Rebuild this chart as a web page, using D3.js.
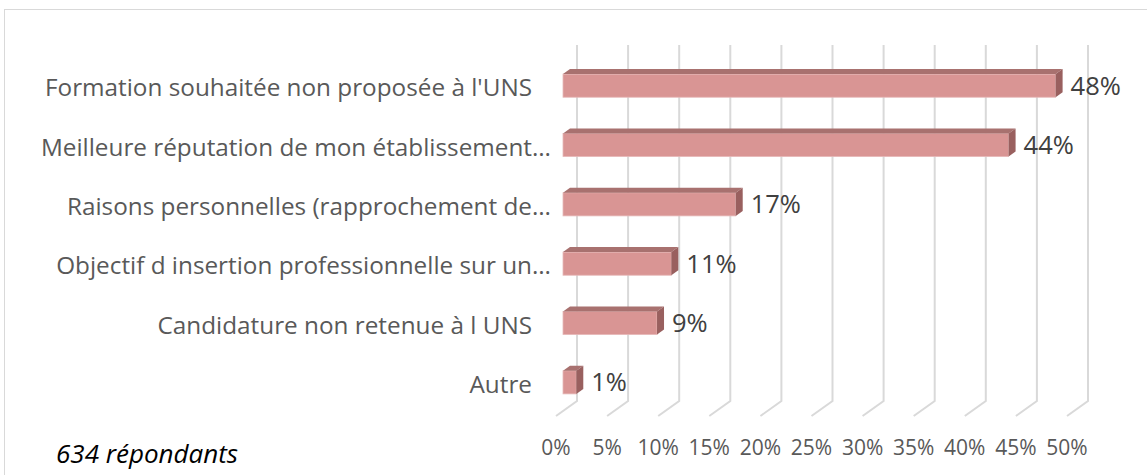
<!DOCTYPE html>
<html>
<head>
<meta charset="utf-8">
<script src="https://cdn.jsdelivr.net/npm/d3@7"></script>
<style>
  body { margin: 0; background: #fff; }
  svg { display: block; }
</style>
</head>
<body>
<div id="chart"></div>
<script>
// data
let categories = [
  "Formation souhaitée non proposée à l'UNS",
  "Meilleure réputation de mon établissement…",
  "Raisons personnelles (rapprochement de…",
  "Objectif d insertion professionnelle sur un…",
  "Candidature non retenue à l UNS",
  "Autre",
];
let values = [48.2, 43.6, 16.9, 10.6, 9.2, 1.3];
let ticks = [0, 5, 10, 15, 20, 25, 30, 35, 40, 45, 50];
let note = "634 répondants";
let title = "Raisons du changement";

let width = 1147,
  height = 475;
let wall = { left: 577, right: 1088, top: 45, bottom: 401 };
let depth = { dx: -21, dy: 15 };
let font = "'Open Sans', sans-serif";

let svg = d3
  .select("#chart")
  .append("svg")
  .attr("width", width)
  .attr("height", height)
  .attr("font-family", font);

// frame of the chart area
svg
  .append("rect")
  .attr("x", 4.5)
  .attr("y", 9.5)
  .attr("width", width + 10)
  .attr("height", height + 10)
  .attr("fill", "none")
  .attr("stroke", "#d9d9d9");

// title, mostly above the picture (only a descender shows)
let t = svg
  .append("text")
  .attr("y", -7.5)
  .attr("font-size", 30)
  .attr("font-weight", 700)
  .attr("fill", "#7030a0")
  .text(title);
t.attr("x", 361 - t.node().getSubStringLength(0, title.indexOf("g")));

let x = d3.scaleLinear().domain([0, 50]).range([wall.left, wall.right]);
let y = d3
  .scaleBand()
  .domain(categories)
  .range([wall.top + 1, wall.bottom + 1])
  .paddingInner(0.61)
  .paddingOuter(0.305);

// point in the 3d box: d = 0 back wall, d = 1 front edge
let px = (v, d) => x(v) + depth.dx * d;
let py = (yy, d) => yy + depth.dy * d;

// gridlines on the back wall and the floor
let grid = svg.append("g").attr("stroke", "#d9d9d9").attr("stroke-width", 2).attr("fill", "none");
grid
  .selectAll("path")
  .data(ticks)
  .join("path")
  .attr(
    "d",
    (d) =>
      `M${x(d)},${wall.top}V${wall.bottom}L${px(d, 1)},${py(wall.bottom, 1)}`
  );

// tick labels
svg
  .append("g")
  .selectAll("text")
  .data(ticks)
  .join("text")
  .attr("x", (d) => px(d, 1))
  .attr("y", 455)
  .attr("text-anchor", "middle")
  .attr("font-size", 21)
  .attr("fill", "#595959")
  .text((d) => d + "%");

// bars
let d0 = 1 / 3,
  d1 = 2 / 3;
let bars = svg
  .append("g")
  .selectAll("g")
  .data(categories.map((c, i) => ({ cat: c, value: values[i] })))
  .join("g");

// front face
bars
  .append("rect")
  .attr("x", (d) => px(0, d1))
  .attr("y", (d) => py(y(d.cat), d1))
  .attr("width", (d) => px(d.value, d1) - px(0, d1))
  .attr("height", y.bandwidth())
  .attr("fill", "#d99594")
  .attr("stroke", "#e6b9b8")
  .attr("stroke-width", 0.8);

// top face
bars
  .append("path")
  .attr("fill", "#a8716f")
  .attr("d", (d) => {
    let yt = y(d.cat);
    return `M${px(0, d1)},${py(yt, d1)}L${px(0, d0)},${py(yt, d0)}L${px(d.value, d0)},${py(yt, d0)}L${px(d.value, d1)},${py(yt, d1)}Z`;
  });

// right side face
bars
  .append("path")
  .attr("fill", "#99605f")
  .attr("d", (d) => {
    let yt = y(d.cat),
      h = y.bandwidth();
    return `M${px(d.value, d1)},${py(yt, d1)}L${px(d.value, d0)},${py(yt, d0)}L${px(d.value, d0)},${py(yt + h, d0)}L${px(d.value, d1)},${py(yt + h, d1)}Z`;
  });

// value labels
bars
  .append("text")
  .attr("x", (d) => px(d.value, d0) + 8)
  .attr("y", (d) => py(y(d.cat) + y.bandwidth() / 2, d1))
  .attr("dy", "0.35em")
  .attr("font-size", 25.5)
  .attr("fill", "#404040")
  .text((d) => Math.round(d.value) + "%");

// category labels, the ellipsis hangs past the right edge
let labels = svg
  .append("g")
  .selectAll("text")
  .data(categories)
  .join("text")
  .attr("y", (d) => py(y(d) + y.bandwidth() / 2, d1) + 2)
  .attr("dy", "0.35em")
  .attr("font-size", 24.3)
  .attr("fill", "#595959")
  .attr("text-anchor", "end")
  .attr("x", 532)
  .text((d) => d.replace("…", ""));

labels
  .filter((d) => d.endsWith("…"))
  .append("tspan")
  .text("…");
labels
  .filter((d) => d.endsWith("…"))
  .attr("x", function () {
    let n = this.getNumberOfChars();
    return 532 + this.getSubStringLength(n - 1, 1);
  });

svg
  .append("text")
  .attr("x", 56)
  .attr("y", 463)
  .attr("font-size", 26)
  .attr("font-style", "italic")
  .attr("fill", "#000")
  .text(note);
</script>
</body>
</html>
